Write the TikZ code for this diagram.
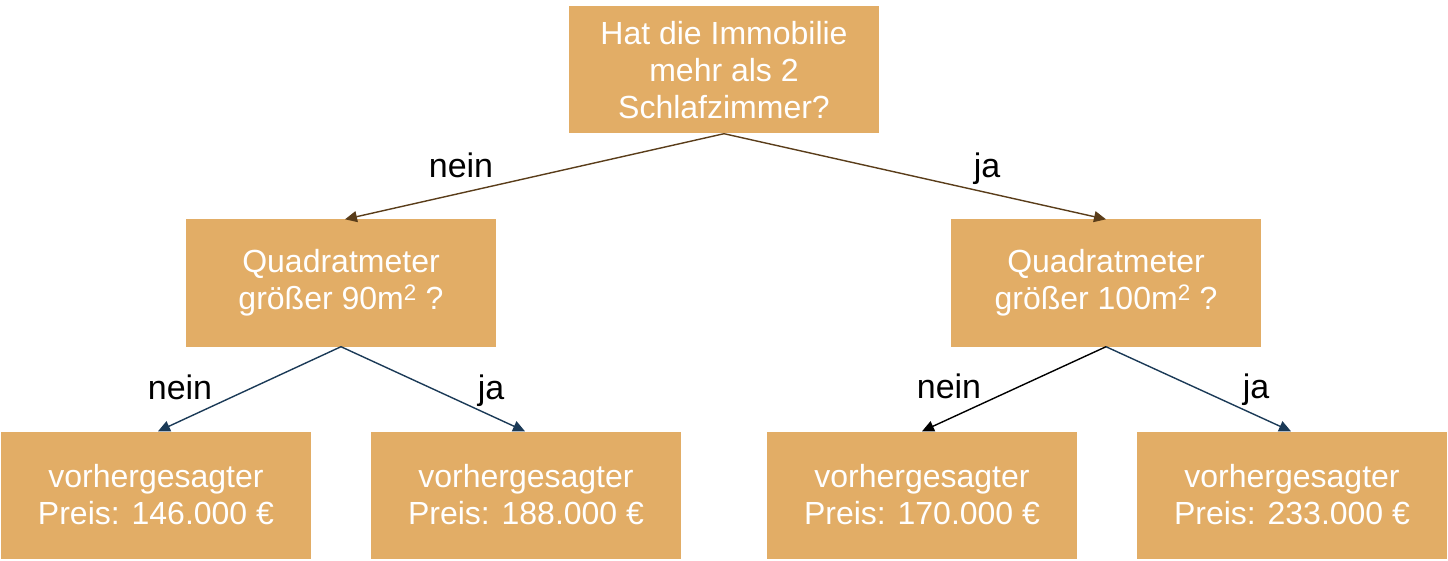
\documentclass[tikz,border=0pt]{standalone}
\usepackage{fontspec}
\setmainfont{Liberation Sans}
\usetikzlibrary{arrows.meta}
\definecolor{boxfill}{HTML}{E2AD66}
\definecolor{brownline}{HTML}{5A3D1A}
\definecolor{blueline}{HTML}{1B3A57}
\tikzset{
  box/.style={rectangle, fill=boxfill, draw=none, minimum width=310pt, minimum height=127pt,
    inner sep=0pt, align=center, text=white, font=\fontsize{32}{37}\selectfont,
    execute at begin node={\rule{0pt}{29pt}}},
  conn/.style={line width=1.4pt, -{Triangle[length=12pt,width=11pt]}},
  lbl/.style={font=\fontsize{34}{40}\selectfont, text=black, inner sep=0pt, anchor=base}
}
\begin{document}
\begin{tikzpicture}[x=1pt,y=-1pt]
\useasboundingbox (0,0) rectangle (1448,561);
\node[box] (top) at (724,70) {Hat die Immobilie\\mehr als 2\\Schlafzimmer?};
\node[box] (midL) at (341,283) {Quadratmeter\\größer 90m\textsuperscript{2} ?};
\node[box] (midR) at (1106,283) {Quadratmeter\\größer 100m\textsuperscript{2} ?};
\node[box] (b1) at (156,495) {vorhergesagter\\Preis: 146.000 €};
\node[box] (b2) at (526,495) {vorhergesagter\\Preis: 188.000 €};
\node[box] (b3) at (922,495) {vorhergesagter\\Preis: 170.000 €};
\node[box] (b4) at (1292,495) {vorhergesagter\\Preis: 233.000 €};
\draw[conn, brownline] (top.south) -- ([xshift=4pt]midL.north);
\draw[conn, brownline] (top.south) -- (midR.north);
\draw[conn, blueline] (midL.south) -- ([xshift=2pt]b1.north);
\draw[conn, blueline] (midL.south) -- ([xshift=-1pt]b2.north);
\draw[conn, black] (midR.south) -- (b3.north);
\draw[conn, blueline] (midR.south) -- ([xshift=-1pt]b4.north);
\node[lbl] (l1) at (461,178) {nein};
\node[lbl] (l2) at (987,178) {ja};
\node[lbl] (l3) at (180,399) {nein};
\node[lbl] (l4) at (491,399) {ja};
\node[lbl] (l5) at (949,398) {nein};
\node[lbl] (l6) at (1256,398) {ja};
\end{tikzpicture}
\end{document}
